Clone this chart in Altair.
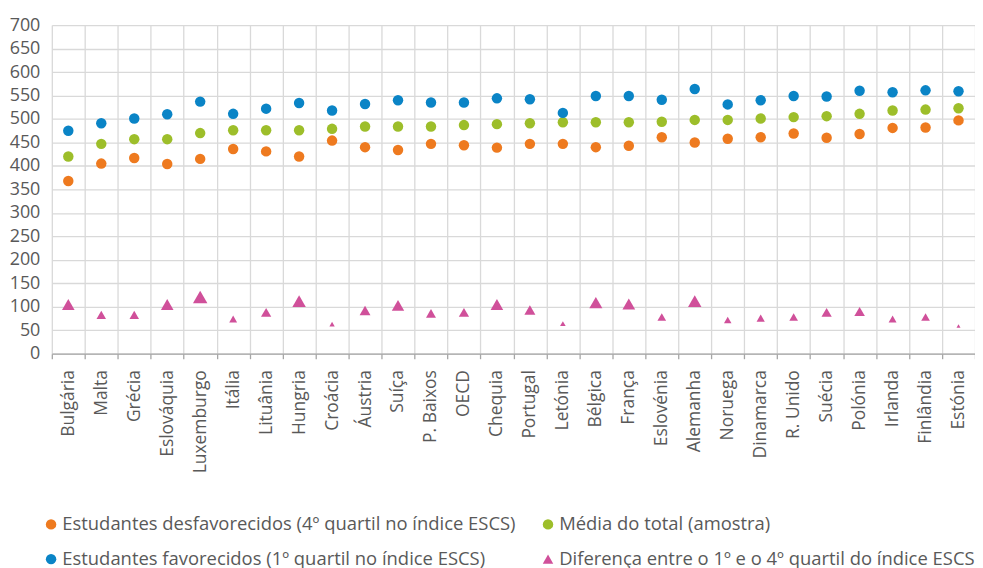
import altair as alt
import pandas as pd

countries = ["Bulgária", "Malta", "Grécia", "Eslováquia", "Luxemburgo", "Itália", "Lituânia",
             "Hungria", "Croácia", "Áustria", "Suíça", "P. Baixos", "OECD", "Chequia",
             "Portugal", "Letónia", "Bélgica", "França", "Eslovénia", "Alemanha", "Noruega",
             "Dinamarca", "R. Unido", "Suécia", "Polónia", "Irlanda", "Finlândia", "Estónia"]
desfav = [368, 405, 417, 404, 415, 436, 431, 420, 454, 440, 434, 447, 444, 439,
          447, 447, 440, 443, 461, 450, 458, 461, 469, 460, 468, 481, 482, 497]
media = [420, 447, 457, 457, 470, 476, 476, 476, 479, 484, 484, 484, 487, 489,
         491, 493, 493, 493, 494, 498, 498, 501, 504, 506, 511, 518, 520, 523]
fav = [475, 491, 501, 510, 537, 511, 522, 534, 518, 532, 540, 535, 535, 544,
       542, 513, 549, 549, 541, 564, 531, 540, 549, 548, 560, 557, 561, 559]
diff = [105, 83, 83, 105, 121, 74, 88, 112, 63, 92, 103, 86, 88, 105,
        93, 64, 109, 106, 78, 112, 72, 76, 78, 88, 90, 74, 78, 59]

S1 = "Estudantes desfavorecidos (4º quartil no índice ESCS)"
S2 = "Média do total (amostra)"
S3 = "Estudantes favorecidos (1º quartil no índice ESCS)"
S4 = "Diferença entre o 1º e o 4º quartil do índice ESCS"
series = [S1, S2, S3, S4]
colors = ["#EE7A1F", "#9DBE2A", "#0A84C6", "#D0509A"]
shapes = ["circle", "circle", "circle", "triangle-up"]
y_ticks = list(range(0, 701, 50))

rows = []
for i, c in enumerate(countries):
    for s, vals in zip(series, [desfav, media, fav, diff]):
        rows.append({"pais": c, "serie": s, "valor": vals[i]})
df = pd.DataFrame(rows)

FONT = "Open Sans"
GREY = "#595959"

legend = alt.Legend(
    title=None, orient="none", legendX=-10, legendY=492, columns=2,
    direction="horizontal",
    labelFont=FONT, labelFontSize=18.5, labelColor=GREY, labelLimit=700,
    symbolSize=110, symbolStrokeWidth=0, columnPadding=22, rowPadding=16,
    labelOffset=2, padding=0,
)

color = alt.Color("serie:N", scale=alt.Scale(domain=series, range=colors), legend=legend)
shape = alt.Shape("serie:N", scale=alt.Scale(domain=series, range=shapes), legend=legend)

x = alt.X("pais:N", sort=countries,
          scale=alt.Scale(paddingInner=0, paddingOuter=0),
          axis=alt.Axis(title=None, labelAngle=-90, tickBand="extent", grid=True,
                        gridColor="#D9D9D9", gridWidth=1.3,
                        domainColor="#A6A6A6", domainWidth=1.3,
                        ticks=True, tickSize=5, tickColor="#A6A6A6", tickWidth=1.3,
                        labelPadding=11, labelFont=FONT, labelFontSize=17.5,
                        labelColor=GREY))
y = alt.Y("valor:Q", scale=alt.Scale(domain=[0, 700], nice=False),
          axis=alt.Axis(title=None, values=y_ticks, grid=True, gridColor="#D9D9D9",
                        gridWidth=1.3, domain=False, ticks=False, labelPadding=12,
                        labelFont=FONT, labelFontSize=18, labelColor=GREY))

base = alt.Chart(df).encode(x=x, y=y, color=color, shape=shape)

circles = base.transform_filter(alt.datum.serie != S4).mark_point(
    filled=True, opacity=1, size=110)
tris = base.transform_filter(alt.datum.serie == S4).mark_point(
    filled=True, opacity=1).encode(
    size=alt.Size("valor:Q", scale=alt.Scale(domain=[59, 121], range=[16, 210]), legend=None))

chart = alt.layer(circles, tris).properties(
    width=927, height=330,
    autosize=alt.AutoSizeParams(type="none"),
    padding={"left": 44, "top": 16, "right": 0, "bottom": 214},
).configure_view(stroke=None)

chart.save("out.html", embed_options={"renderer": "svg", "actions": False})
